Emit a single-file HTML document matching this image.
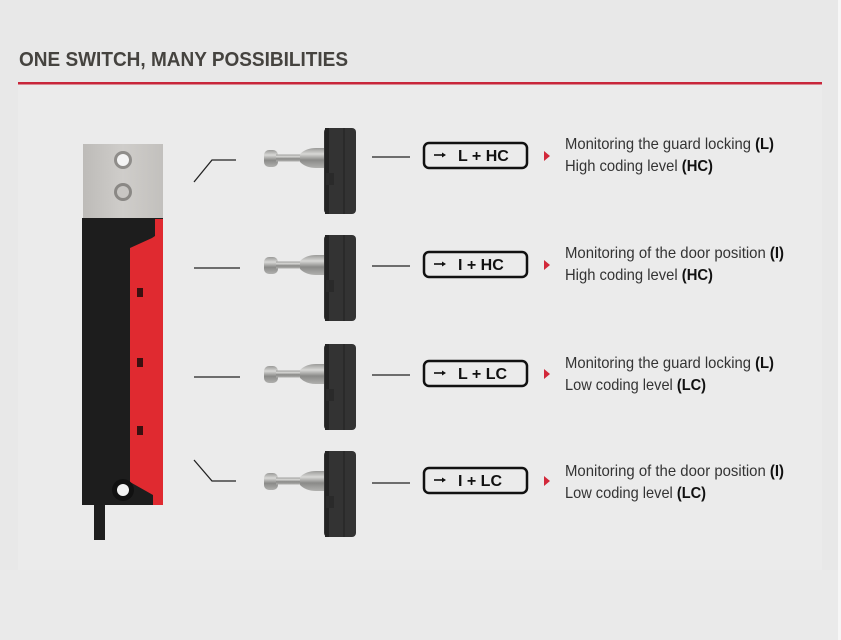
<!DOCTYPE html>
<html><head><meta charset="utf-8"><style>
html,body{margin:0;padding:0;background:#e8e8e8;width:841px;height:640px;overflow:hidden}
svg{display:block}
</style></head><body>
<svg width="841" height="640" viewBox="0 0 841 640" xmlns="http://www.w3.org/2000/svg">
<defs>
<linearGradient id="metal" x1="0" x2="0" y1="0" y2="1"><stop offset="0" stop-color="#9a9a98"/><stop offset="0.3" stop-color="#d8d8d6"/><stop offset="0.6" stop-color="#8a8a88"/><stop offset="1" stop-color="#b0b0ae"/></linearGradient>
<linearGradient id="plate" x1="0" x2="1"><stop offset="0" stop-color="#bdbbb8"/><stop offset="0.5" stop-color="#cfcdca"/><stop offset="1" stop-color="#c2c0bd"/></linearGradient>
<g id="act">
 <rect x="0" y="-8" width="14" height="17" rx="5" fill="url(#metal)"/>
 <rect x="12" y="-3.5" width="26" height="7" fill="url(#metal)"/>
 <path d="M36,-4 Q42,-10 52,-10 L60,-10 L60,10 L52,10 Q42,10 36,4 Z" fill="url(#metal)"/>
 <rect x="60" y="-30" width="32" height="86" rx="4" fill="#333"/>
 <rect x="61" y="-30" width="4" height="86" fill="#232323"/>
 <rect x="79" y="-30" width="2" height="86" fill="#2a2a2a"/>
 <rect x="62" y="15" width="8" height="12" fill="#2a2a2a"/>
</g>
<g id="arr"><line x1="0" y1="0" x2="9" y2="0" stroke="#111" stroke-width="1.6"/><path d="M8,-2.5 L12,0 L8,2.5 Z" fill="#111"/></g>
</defs>
<rect x="0" y="0" width="841" height="640" fill="#e8e8e8"/>
<rect x="18" y="84" width="804" height="486" fill="#ebebeb"/>
<rect x="0" y="570" width="838" height="70" fill="#eaeaea"/>
<rect x="838" y="0" width="3" height="640" fill="#f6f6f6"/>
<text x="19" y="66" font-family="Liberation Sans, sans-serif" font-weight="bold" font-size="20" fill="#45433f" textLength="329" lengthAdjust="spacingAndGlyphs">ONE SWITCH, MANY POSSIBILITIES</text>
<rect x="18" y="82" width="804" height="2.5" fill="#c8263a"/>

<rect x="94" y="500" width="11" height="40" fill="#1e1e1e"/>
<rect x="83" y="144" width="80" height="75" fill="url(#plate)"/>
<circle cx="123" cy="160" r="9" fill="#8f8d8a"/><circle cx="123" cy="160" r="6" fill="#f4f4f4"/>
<circle cx="123" cy="192" r="9" fill="#8a8885"/><circle cx="123" cy="192" r="6" fill="#c8c6c3"/>
<rect x="82" y="218" width="81" height="287" fill="#1d1d1d"/>
<path d="M155,219 L163,219 L163,505 L153,505 L153,495 L130,482 L130,248 L152,238 L155,236 Z" fill="#e02a30"/>
<rect x="137" y="288" width="6" height="9" fill="#3a1010"/>
<rect x="137" y="358" width="6" height="9" fill="#3a1010"/>
<rect x="137" y="426" width="6" height="9" fill="#3a1010"/>
<circle cx="123" cy="490" r="11" fill="#111"/><circle cx="123" cy="490" r="6" fill="#f2f2f2"/>

<g stroke="#222" stroke-width="1.3" fill="none">
<path d="M194,182 L212,160 L236,160" />
<line x1="194" y1="268" x2="240" y2="268"/>
<line x1="194" y1="377" x2="240" y2="377"/>
<path d="M194,460 L212,481 L236,481"/>
</g>

<use href="#act" x="264" y="158"/>
<use href="#act" x="264" y="265"/>
<use href="#act" x="264" y="374"/>
<use href="#act" x="264" y="481"/>

<g stroke="#222" stroke-width="1.3">
<line x1="372" y1="157" x2="410" y2="157"/>
<line x1="372" y1="266" x2="410" y2="266"/>
<line x1="372" y1="375" x2="410" y2="375"/>
<line x1="372" y1="483" x2="410" y2="483"/>
</g>

<g font-family="Liberation Sans, sans-serif" font-size="16">
<g fill="none" stroke="#111" stroke-width="2.5">
<rect x="424" y="143" width="103" height="25" rx="5"/>
<rect x="424" y="252" width="103" height="25" rx="5"/>
<rect x="424" y="361" width="103" height="25" rx="5"/>
<rect x="424" y="468" width="103" height="25" rx="5"/>
</g>
<use href="#arr" x="434" y="155"/>
<use href="#arr" x="434" y="264"/>
<use href="#arr" x="434" y="373"/>
<use href="#arr" x="434" y="480"/>
<g font-weight="bold" fill="#111">
<text x="458" y="161">L + HC</text>
<text x="458" y="270">I + HC</text>
<text x="458" y="379">L + LC</text>
<text x="458" y="486">I + LC</text>
</g>
<g fill="#d2283a">
<path d="M544,151 L550,156 L544,161 Z"/>
<path d="M544,260 L550,265 L544,270 Z"/>
<path d="M544,369 L550,374 L544,379 Z"/>
<path d="M544,476 L550,481 L544,486 Z"/>
</g>
<g fill="#333">
<text x="565" y="149" textLength="209" lengthAdjust="spacingAndGlyphs">Monitoring the guard locking <tspan font-weight="bold" fill="#111">(L)</tspan></text>
<text x="565" y="171" textLength="148" lengthAdjust="spacingAndGlyphs">High coding level <tspan font-weight="bold" fill="#111">(HC)</tspan></text>
<text x="565" y="258" textLength="219" lengthAdjust="spacingAndGlyphs">Monitoring of the door position <tspan font-weight="bold" fill="#111">(I)</tspan></text>
<text x="565" y="280" textLength="148" lengthAdjust="spacingAndGlyphs">High coding level <tspan font-weight="bold" fill="#111">(HC)</tspan></text>
<text x="565" y="368" textLength="209" lengthAdjust="spacingAndGlyphs">Monitoring the guard locking <tspan font-weight="bold" fill="#111">(L)</tspan></text>
<text x="565" y="390" textLength="141" lengthAdjust="spacingAndGlyphs">Low coding level <tspan font-weight="bold" fill="#111">(LC)</tspan></text>
<text x="565" y="476" textLength="219" lengthAdjust="spacingAndGlyphs">Monitoring of the door position <tspan font-weight="bold" fill="#111">(I)</tspan></text>
<text x="565" y="498" textLength="141" lengthAdjust="spacingAndGlyphs">Low coding level <tspan font-weight="bold" fill="#111">(LC)</tspan></text>
</g>
</g>
</svg>
</body></html>
